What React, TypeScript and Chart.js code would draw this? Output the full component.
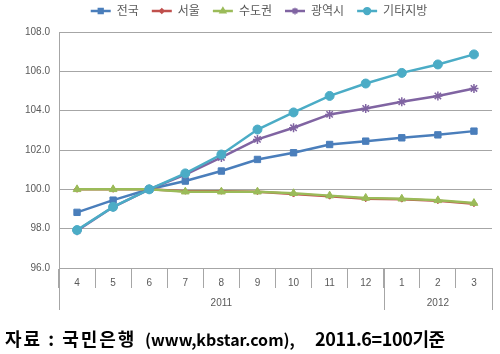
import React, { useEffect, useRef } from "react";
import { Chart, registerables } from "chart.js";
import { drawPoint } from "chart.js/helpers";
Chart.register(...registerables);

const months = ["4", "5", "6", "7", "8", "9", "10", "11", "12", "1", "2", "3"];
const years = ["2011", "2012"];
const yearSpans = [9, 3];
const seriesNames = ["전국", "서울", "수도권", "광역시", "기타지방"];
const national = [98.83, 99.45, 100.0, 100.42, 100.93, 101.52, 101.86, 102.28, 102.45, 102.62, 102.77, 102.96];
const seoul = [100.0, 100.0, 100.0, 99.9, 99.9, 99.88, 99.76, 99.65, 99.52, 99.5, 99.42, 99.27];
const capital = [100.0, 100.0, 100.0, 99.88, 99.88, 99.88, 99.8, 99.68, 99.56, 99.52, 99.44, 99.3];
const metro = [97.9, 99.1, 100.0, 100.75, 101.62, 102.54, 103.13, 103.81, 104.11, 104.45, 104.75, 105.13];
const others = [97.93, 99.11, 100.0, 100.81, 101.77, 103.04, 103.91, 104.75, 105.38, 105.92, 106.35, 106.86];
const yMin = 96;
const yMax = 108;
const yStep = 2;
const footerParts = ["자료 : 국민은행", "(www,kbstar.com),", "2011.6=100기준"];
const footerLefts = [5, 145, 315];
const footerSizes = [18, 16, 18];
const footerSpacing = [2, 0, -0.4];

const colors = ["#4a7ebb", "#c0504d", "#9bbb59", "#8064a2", "#4bacc6"];
const pointStyles = ["rect", "rectRot", "triangle", "star", "circle"];
const pointRadii = [4.5, 3, 4.5, 4.5, 4.5];
const FONT = '"Liberation Sans", "Noto Sans CJK KR", sans-serif';
const GRID = "#a6a6a6";
const TEXT = "#595959";

const legendPlugin = {
  id: "customLegend",
  afterDraw(chart: any) {
    const ctx = chart.ctx;
    ctx.save();
    ctx.font = `12px ${FONT}`;
    const lineLen = 20;
    const gap1 = 6;
    const gap2 = 13;
    const widths = chart.data.datasets.map((d: any) => lineLen + gap1 + ctx.measureText(d.label).width);
    const total = widths.reduce((a: number, b: number) => a + b, 0) + gap2 * (widths.length - 1);
    let x = 259 - total / 2;
    const y = 11;
    chart.data.datasets.forEach((d: any, i: number) => {
      ctx.strokeStyle = d.borderColor;
      ctx.lineWidth = 2.5;
      ctx.beginPath();
      ctx.moveTo(x, y);
      ctx.lineTo(x + lineLen, y);
      ctx.stroke();
      ctx.fillStyle = d.borderColor;
      ctx.lineWidth = 1.5;
      drawPoint(
        ctx,
        { pointStyle: d.pointStyle, radius: d.pointRadius * 0.75, borderWidth: 1.5, rotation: 0 },
        x + lineLen / 2,
        y
      );
      ctx.fillStyle = TEXT;
      ctx.textBaseline = "middle";
      ctx.textAlign = "left";
      ctx.fillText(d.label, x + lineLen + gap1, y + 1);
      x += widths[i] + gap2;
    });
    ctx.restore();
  },
};

const yearPlugin = {
  id: "yearRow",
  afterDraw(chart: any) {
    const ctx = chart.ctx;
    const xs = chart.scales.x;
    const area = chart.chartArea;
    const step = xs.getPixelForValue(1) - xs.getPixelForValue(0);
    ctx.save();
    ctx.strokeStyle = GRID;
    ctx.lineWidth = 1;
    ctx.fillStyle = TEXT;
    ctx.font = `10px ${FONT}`;
    ctx.textAlign = "center";
    ctx.textBaseline = "middle";
    let idx = 0;
    const bounds: number[] = [area.left];
    years.forEach((yr, i) => {
      const start = xs.getPixelForValue(idx) - step / 2;
      idx += yearSpans[i];
      const end = xs.getPixelForValue(idx - 1) + step / 2;
      bounds.push(end);
      ctx.fillText(yr, (start + end) / 2, area.bottom + 35);
    });
    bounds.forEach((bx) => {
      const px = Math.round(bx) + 0.5;
      ctx.beginPath();
      ctx.moveTo(px, area.bottom);
      ctx.lineTo(px, area.bottom + 42);
      ctx.stroke();
    });
    ctx.restore();
  },
};

export default function App() {
  const ref = useRef<HTMLCanvasElement | null>(null);
  useEffect(() => {
    if (!ref.current) return;
    const series = [national, seoul, capital, metro, others];
    const chart = new Chart(ref.current, {
      type: "line",
      data: {
        labels: months,
        datasets: series.map((s, i) => ({
          label: seriesNames[i],
          data: s,
          borderColor: colors[i],
          backgroundColor: colors[i],
          pointBackgroundColor: colors[i],
          pointBorderColor: colors[i],
          pointStyle: pointStyles[i],
          pointRadius: pointRadii[i],
          pointBorderWidth: i === 3 ? 1.5 : 1,
          borderWidth: 2.5,
          tension: 0,
          order: series.length - i,
        })),
      },
      options: {
        animation: false,
        responsive: false,
        maintainAspectRatio: false,
        layout: { padding: { left: 0, right: 8, top: 32, bottom: 66 } },
        plugins: { legend: { display: false }, tooltip: { enabled: false } },
        scales: {
          x: {
            offset: true,
            afterFit(scale: any) {
              scale.height = 20;
            },
            grid: {
              offset: true,
              drawOnChartArea: false,
              drawTicks: true,
              tickLength: 20,
              color: GRID,
            },
            border: { color: GRID },
            ticks: { color: TEXT, font: { family: FONT, size: 10 }, padding: -11, maxRotation: 0 },
          },
          y: {
            min: yMin,
            max: yMax,
            afterFit(scale: any) {
              scale.width = 59;
            },
            grid: { color: GRID, drawTicks: false },
            border: { color: GRID },
            ticks: {
              stepSize: yStep,
              color: TEXT,
              font: { family: FONT, size: 10 },
              padding: 9,
              callback: (v: any) => Number(v).toFixed(1),
            },
          },
        },
      },
      plugins: [legendPlugin, yearPlugin],
    });
    return () => chart.destroy();
  }, []);
  return (
    <div style={{ position: "absolute", left: 0, top: 0, width: 500, height: 354, background: "#fff" }}>
      <canvas ref={ref} width={500} height={354} style={{ display: "block" }} />
      {footerParts.map((t, i) => (
        <span
          key={i}
          style={{
            position: "absolute",
            left: footerLefts[i],
            top: 325 + (18 - footerSizes[i]) * 0.9,
            fontFamily: '"Noto Sans CJK KR", sans-serif',
            fontWeight: 700,
            fontSize: footerSizes[i],
            whiteSpace: "pre",
            color: "#000",
            letterSpacing: footerSpacing[i],
          }}
        >
          {t}
        </span>
      ))}
    </div>
  );
}
